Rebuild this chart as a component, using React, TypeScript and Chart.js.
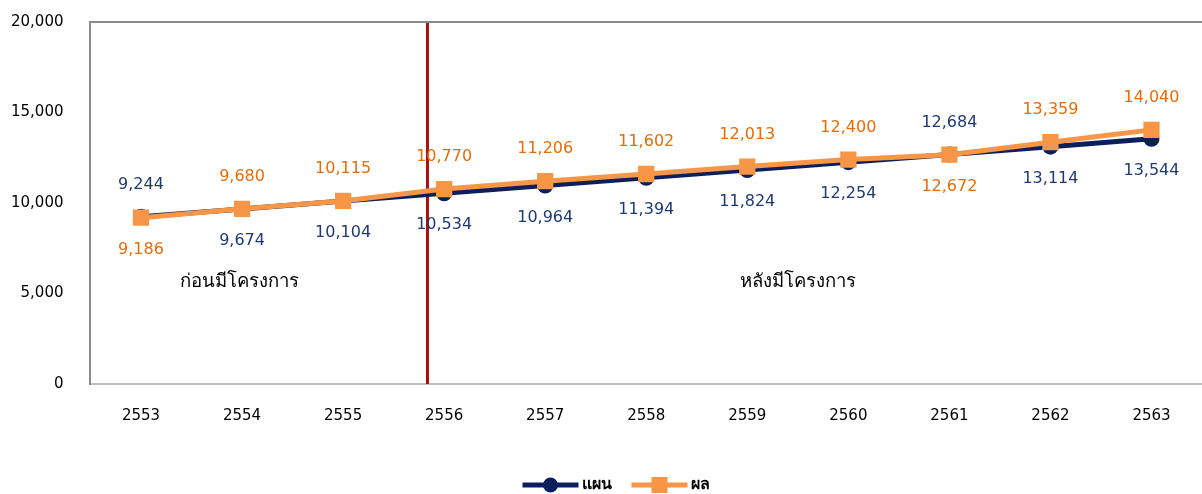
import React, { useEffect, useRef } from "react";
import { Chart, registerables } from "chart.js";

Chart.register(...registerables);

const years = ["2553", "2554", "2555", "2556", "2557", "2558", "2559", "2560", "2561", "2562", "2563"];
const planValues = [9244, 9674, 10104, 10534, 10964, 11394, 11824, 12254, 12684, 13114, 13544];
const actualValues = [9186, 9680, 10115, 10770, 11206, 11602, 12013, 12400, 12672, 13359, 14040];
const planLabelSide = ["above", "below", "below", "below", "below", "below", "below", "below", "above", "below", "below"];
const actualLabelSide = ["below", "above", "above", "above", "above", "above", "above", "above", "below", "above", "above"];
const seriesNames = ["แผน", "ผล"];
const periodLabels = ["ก่อนมีโครงการ", "หลังมีโครงการ"];
const periodLabelIndex = [0.97, 6.5];
const periodLabelValue = 5600;
const dividerIndex = 2.835;
const yMin = 0;
const yMax = 20000;
const yStep = 5000;

const NAVY = "#0B1F5E";
const NAVY_TEXT = "#1F3A73";
const ORANGE = "#F79646";
const ORANGE_TEXT = "#E46C0A";
const FONT = "'DejaVu Sans', 'Noto Sans', sans-serif";

const idxToPixel = (scale: any, idx: number) => {
  const i0 = Math.floor(idx);
  const f = idx - i0;
  const p0 = scale.getPixelForValue(i0);
  const p1 = scale.getPixelForValue(i0 + 1);
  return p0 + f * (p1 - p0);
};

const overlayPlugin = {
  id: "overlay",
  beforeDatasetsDraw(chart: any) {
    const { ctx, chartArea, scales } = chart;
    ctx.save();
    ctx.strokeStyle = "#8a8a8a";
    ctx.lineWidth = 2;
    ctx.beginPath();
    ctx.moveTo(chartArea.left - 1, chartArea.top);
    ctx.lineTo(chartArea.right + 5, chartArea.top);
    ctx.stroke();
    const x = idxToPixel(scales.x, dividerIndex);
    ctx.strokeStyle = "#A50F15";
    ctx.lineWidth = 3;
    ctx.beginPath();
    ctx.moveTo(x, chartArea.top + 1);
    ctx.lineTo(x, chartArea.bottom);
    ctx.stroke();
    ctx.fillStyle = "#000";
    ctx.font = `18.5px ${FONT}`;
    ctx.textAlign = "center";
    ctx.textBaseline = "middle";
    periodLabels.forEach((t, i) => {
      ctx.fillText(t, idxToPixel(scales.x, periodLabelIndex[i]), scales.y.getPixelForValue(periodLabelValue));
    });
    ctx.restore();
  },
  afterDatasetsDraw(chart: any) {
    const { ctx, scales } = chart;
    ctx.save();
    ctx.font = `16px ${FONT}`;
    ctx.textAlign = "center";
    ctx.textBaseline = "middle";
    const drawSet = (vals: number[], sides: string[], color: string) => {
      ctx.fillStyle = color;
      vals.forEach((v, i) => {
        const x = scales.x.getPixelForValue(i);
        const y = scales.y.getPixelForValue(v);
        const dy = sides[i] === "above" ? -32 : 32;
        ctx.fillText(v.toLocaleString("en-US"), x, y + dy);
      });
    };
    drawSet(planValues, planLabelSide, NAVY_TEXT);
    drawSet(actualValues, actualLabelSide, ORANGE_TEXT);

    const legendY = 485;
    ctx.font = `bold 16px ${FONT}`;
    ctx.textAlign = "left";
    const lineLen = 56;
    const w0 = ctx.measureText(seriesNames[0]).width;
    const w1 = ctx.measureText(seriesNames[1]).width;
    const total = lineLen + 3 + w0 + 20 + lineLen + 3 + w1;
    let x = chart.width / 2 + 15 - total / 2;
    const drawItem = (name: string, w: number, color: string, marker: string) => {
      ctx.strokeStyle = color;
      ctx.lineWidth = 5;
      ctx.beginPath();
      ctx.moveTo(x, legendY);
      ctx.lineTo(x + lineLen, legendY);
      ctx.stroke();
      ctx.fillStyle = color;
      const cx = x + lineLen / 2;
      if (marker === "circle") {
        ctx.beginPath();
        ctx.arc(cx, legendY, 7.5, 0, Math.PI * 2);
        ctx.fill();
      } else {
        ctx.fillRect(cx - 8, legendY - 8, 16, 16);
      }
      ctx.fillStyle = "#000";
      ctx.textBaseline = "middle";
      ctx.fillText(name, x + lineLen + 3, legendY);
      x += lineLen + 3 + w + 20;
    };
    drawItem(seriesNames[0], w0, NAVY, "circle");
    drawItem(seriesNames[1], w1, ORANGE, "rect");
    ctx.restore();
  },
};

export default function App() {
  const canvasRef = useRef<HTMLCanvasElement | null>(null);

  useEffect(() => {
    document.body.style.margin = "0";
    const canvas = canvasRef.current;
    if (!canvas) return;
    const chart = new Chart(canvas, {
      type: "line",
      data: {
        labels: years,
        datasets: [
          {
            label: seriesNames[1],
            data: actualValues,
            borderColor: ORANGE,
            backgroundColor: ORANGE,
            borderWidth: 5,
            pointStyle: "rect",
            pointRadius: 11.5,
            pointBorderWidth: 0,
            tension: 0,
            order: 0,
          },
          {
            label: seriesNames[0],
            data: planValues,
            borderColor: NAVY,
            backgroundColor: NAVY,
            borderWidth: 5,
            pointStyle: "circle",
            pointRadius: 8,
            pointBorderWidth: 0,
            tension: 0,
            order: 1,
          },
        ],
      },
      options: {
        responsive: false,
        animation: false,
        events: [],
        layout: { autoPadding: false, padding: { left: -16, right: -3, top: 22, bottom: 46 } },
        plugins: {
          legend: { display: false },
          tooltip: { enabled: false },
        },
        scales: {
          x: {
            type: "category",
            offset: true,
            grid: { display: false, drawTicks: false },
            border: { color: "#c0c0c0", width: 2 },
            ticks: { color: "#000", font: { family: FONT, size: 15 }, padding: 23, maxRotation: 0 },
          },
          y: {
            min: yMin,
            max: yMax,
            grid: { display: false, drawTicks: false },
            border: { color: "#8a8a8a", width: 2 },
            afterFit: (scale: any) => {
              scale.paddingTop = 0;
              scale.paddingBottom = 0;
            },
            ticks: {
              stepSize: yStep,
              color: "#000",
              font: { family: FONT, size: 15 },
              padding: 27,
              callback: (v: any) => Number(v).toLocaleString("en-US"),
            },
          },
        },
      },
      plugins: [overlayPlugin],
    });
    return () => chart.destroy();
  }, []);

  return (
    <div style={{ width: 1202, height: 494 }}>
      <canvas ref={canvasRef} width={1202} height={494} />
    </div>
  );
}
